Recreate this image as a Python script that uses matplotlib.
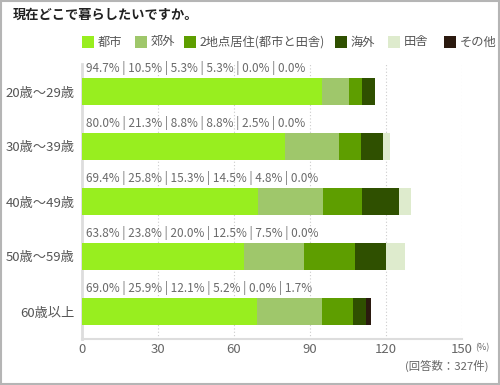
import matplotlib.pyplot as plt
import numpy as np
from matplotlib.patches import Rectangle

plt.rcParams['font.family'] = ['Noto Sans CJK JP', 'DejaVu Sans']

title = "現在どこで暮らしたいですか。"
series_names = ["都市", "郊外", "2地点居住(都市と田舎)", "海外", "田舎", "その他"]
colors = ["#98ee1f", "#9fc76b", "#5e9e00", "#2f5000", "#deebcd", "#2b1a0f"]
age_groups = ["20歳〜29歳", "30歳〜39歳", "40歳〜49歳", "50歳〜59歳", "60歳以上"]
values = [
    [94.7, 10.5, 5.3, 5.3, 0.0, 0.0],
    [80.0, 21.3, 8.8, 8.8, 2.5, 0.0],
    [69.4, 25.8, 15.3, 14.5, 4.8, 0.0],
    [63.8, 23.8, 20.0, 12.5, 7.5, 0.0],
    [69.0, 25.9, 12.1, 5.2, 0.0, 1.7],
]
x_ticks = [0, 30, 60, 90, 120, 150]
note = "(回答数：327件)"

W, H = 500, 385
fig = plt.figure(figsize=(W / 100, H / 100), dpi=100)
fig.patch.set_facecolor("white")

# outer frame
fig.patches.append(Rectangle((0.001, 0.002), 0.997, 0.995, transform=fig.transFigure,
                             fill=False, edgecolor="#b5b5b5", linewidth=1.5))

ax = fig.add_axes([82 / W, 1 - 339 / H, 380 / W, 275 / H])

data = np.array(values)
ypos = np.arange(len(age_groups))
left = np.zeros(len(age_groups))
for j, name in enumerate(series_names):
    ax.barh(ypos, data[:, j], left=left, height=0.49, color=colors[j], zorder=3)
    left += data[:, j]

for i, row in enumerate(values):
    label = " | ".join("{:.1f}%".format(v) for v in row)
    ax.text(1.5, i - 0.43, label, fontsize=8.5, color="#6a6a6a", va="center", ha="left",
            clip_on=False)

ax.set_xlim(0, 150)
ax.set_ylim(len(age_groups) - 0.5, -0.5)
ax.set_yticks(ypos)
ax.set_yticklabels(age_groups, fontsize=9.5, color="#555555")
ax.set_xticks(x_ticks)
ax.set_xticklabels([str(t) for t in x_ticks], fontsize=9.5, color="#666666")
ax.tick_params(length=0, pad=5)
ax.tick_params(axis="x", pad=3)

for t in x_ticks[1:]:
    ax.axvline(t, color="#cccccc", linestyle=(0, (1, 2)), linewidth=0.8, zorder=1)

for s in ["top", "right"]:
    ax.spines[s].set_visible(False)
ax.spines["left"].set_color("#dddddd")
ax.spines["left"].set_linewidth(2)
ax.spines["bottom"].set_color("#dddddd")
ax.spines["bottom"].set_linewidth(1.5)

fig.text(13 / W, 1 - 15 / H, title, fontsize=9.5, fontweight="bold", color="#222222",
         va="center", ha="left")

# legend
legend_x = [82, 135, 184, 335, 388, 444]
for lx, name, c in zip(legend_x, series_names, colors):
    fig.patches.append(Rectangle((lx / W, 1 - 48 / H), 12 / W, 12 / H,
                                 transform=fig.transFigure, facecolor=c, edgecolor="none"))
    fig.text((lx + 16) / W, 1 - 42 / H, name, fontsize=8.8, color="#555555",
             va="center", ha="left")

fig.text(475 / W, 1 - 348 / H, "(%)", fontsize=6.5, color="#666666", va="center", ha="left")
fig.text(488 / W, 1 - 366 / H, note, fontsize=8.2, color="#666666", va="center", ha="right")

fig.savefig("out.png", dpi=100)
